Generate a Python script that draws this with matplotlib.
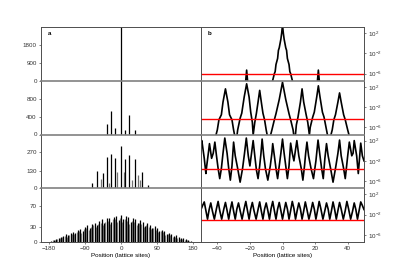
import numpy as np
import matplotlib.pyplot as plt

plt.rcParams['font.family'] = ['Liberation Sans', 'DejaVu Sans']
plt.rcParams['font.size'] = 4.5
plt.rcParams['mathtext.default'] = 'regular'

# ── panel a: probability (linear) ─────────────────────────────────────────
a1_pos = [0]
a1_val = [2800]

a2_pos = [-36, -24, -15, 0, 11, 20, 34]
a2_val = [230, 530, 140, 1250, 100, 440, 100]

a3_pos_k = [-72, -60, -46, -36, -24, -15, 0, 10, 21, 34, 53, 67]
a3_val_k = [37, 132, 110, 231, 253, 224, 312, 219, 246, 217, 122, 22]
a3_pos_g = [-51, -31, -11, 7, 28, 42, 47]
a3_val_g = [66, 40, 124, 124, 60, 102, 58]

a4_pos_k = np.arange(-174, 175, 6)
a4_val_k = [2, 4, 5, 8, 10, 12, 15, 13, 18, 20, 17, 24, 26, 22, 30, 33, 28, 36,
            38, 33, 42, 44, 38, 46, 47, 40, 48, 50, 43, 52, 44, 50, 48, 40, 47,
            45, 37, 43, 40, 32, 37, 34, 27, 31, 28, 21, 24, 22, 16, 18, 16, 11,
            13, 10, 7, 8, 5, 3, 2]
a4_pos_g = np.arange(-171, 172, 6)
a4_val_g = [3, 3, 6, 7, 9, 11, 10, 14, 16, 15, 19, 21, 18, 25, 27, 24, 30, 33,
            29, 36, 38, 33, 40, 42, 36, 44, 45, 39, 46, 40, 44, 41, 35, 42, 40,
            33, 38, 36, 30, 33, 30, 25, 27, 24, 19, 21, 19, 14, 15, 13, 9, 10,
            8, 6, 5, 4, 3, 2]

a_ylim = [2700, 1200, 400, 105]
a_ticks = [[0, 900, 1800], [0, 400, 800], [0, 130, 270], [0, 30, 70]]

# ── panel b: log10 probability ────────────────────────────────────────────
b1_x = [-50, -23, -22, -21, -7, -6, -5, -4.5, -4, -3, -2.5, -2, -1, -0.5, 0,
        0.5, 1, 2, 2.5, 3, 4, 4.5, 5, 6, 7, 21, 22, 23, 50]
b1_y = [-9, -9, -5.3, -9, -9, -7.3, -6.0, -5.6, -4.2, -3.0, -1.4, -0.9, 0.8,
        2.0, 3.6, 2.0, 0.8, -0.9, -1.4, -3.0, -4.2, -5.6, -6.0, -7.3, -9, -9,
        -5.3, -9, -9]

b2_x = [-50, -42, -40, -39, -37.5, -36.5, -35, -33.5, -32.5, -31, -30, -28.5,
        -27.5, -26, -25, -23.5, -22, -20.5, -19.5, -18.5, -18, -17, -16, -15,
        -14, -13, -12, -11, -10, -8.5, -6.5, -5, -4, -2, 0, 2, 4, 5, 6.5, 7.5,
        8.5, 9.5, 11, 12, 13, 14.5, 15.5, 16.5, 17, 18.5, 19.5, 21, 22, 23,
        24.5, 25.5, 27, 28.5, 30.5, 31.5, 32.5, 34, 35, 36, 37.5, 38.5, 40, 42, 50]
b2_y = [-9, -9, -6.5, -4.5, -3.5, -1, 1.6, -1, -3.5, -4.5, -6.5, -9,
        -6.5, -4.2, -3.2, 0, 2.6, 0, -3, -5, -7.5, -5, -3.2, -1,
        1.3, -1, -3.2, -4.5, -6.5, -9, -6.5, -4.5, -3.3, -0.5, 2.9, -0.5, -3.3, -4.5, -6.5, -9,
        -5.5, -4, -1, 1.6, -1, -3.5, -5, -7.5, -6, -4, -3, 0, 2.2, 0,
        -3, -4, -6.5, -9, -6.5, -4.5, -3.5, -1, 0.8, -1, -3.5, -4.5, -6.5, -9, -9]

b3_x = [-50, -49.5, -48, -47, -46.5, -45.5, -44.8, -43.5, -42.5, -41.5, -40.5,
        -39.5, -38.5, -37.5, -36.5, -35.4, -34, -33, -32, -31, -30, -29, -27.5,
        -26, -24.5, -23.3, -22.2, -21, -20, -19, -18, -17, -16, -15, -14, -13.2,
        -12.5, -11.5, -10.5, -9, -7.5, -6.5, -6, -5, -4, -3, -2, -1, 0, 1, 2, 3,
        4, 5, 6, 7, 8.8, 10, 11.5, 12.5, 13.5, 14.2, 15, 16, 17.5, 19, 20.5,
        21.8, 23, 24, 25, 26, 27, 28, 29.5, 31, 32.5, 34, 35, 36, 37.5, 38.5,
        40, 41, 42.5, 43.3, 44, 45.5, 46.5, 47.5, 48, 49, 50]
b3_y = [1.5, 2.0, -1.5, -4.5, -3, -0.5, 1.4, -1.5, -0.5, 1.7, -1,
        -3.5, -5.5, -3.5, -0.5, 2.5, -0.5, -3.5, -5.8, -3, 1.7, -1, -3.5,
        -6.2, -3.5, -0.5, 2.5, -1, -3, -0.5, 2.0, -1, -3.8, -5.5, -3, -0.5,
        2.3, -1, -3.5, -5.8, -3, -0.5, 1.4, -1, -3.5, -5.5, -3, -0.5, 2.3, -0.5, -3, -5.5,
        -3, 1.5, -0.5, -2, 2.0, -1, -3.5, -5.8, -3, -0.5, 1.7, -1, -3.5, -5.5, -2,
        2.1, -1, -3.5, -5.5, -1.5, 1.4, -1, -3.5, -6.2, -3.5, -0.5, 2.1, -1, -3.5, -5.5,
        -1, 1.7, -1, -0.5, 2.0, -1, -4.5, -0.5, 1.5, -1, -2]

b4_x = [-50, -49, -48, -47, -46, -45, -44, -43, -41.8, -40.5, -39.5, -38.5,
        -37.3, -36, -35, -34, -33, -32, -31, -30, -29, -28, -27, -26, -24.8,
        -23.5, -22.5, -21.5, -20.5, -19.5, -18.5, -17.5, -16.2, -15, -14, -13,
        -12, -11, -10, -9, -8, -7, -6, -5, -4, -3, -2, -1, 0, 1, 2, 3, 4, 5, 6,
        7, 8, 9, 10, 11, 12, 13, 14, 15, 16.2, 17.5, 18.5, 19.5, 20.5, 21.5,
        22.5, 23.5, 24.8, 26, 27, 28, 29, 30, 31, 32, 33, 34, 35, 36, 37.3, 38.5,
        39.5, 40.5, 41.8, 43, 44, 45, 46, 47, 48, 49, 50]
b4_y = [-1.0, -0.2, 0.5, -1.2, -2.9, -1.0, 0.3, -1.3, -2.9, -0.8, 0.6, -1.2,
        -2.9, -0.9, 0.4, -1.2, -2.9, -1.0, 0.5, -1.3, -2.9, -0.9, 0.3, -1.2, -2.9,
        -0.8, 0.6, -1.2, -2.9, -0.9, 0.4, -1.2, -2.9, -1.0, 0.5, -1.3, -2.9,
        -0.9, 0.3, -1.2, -2.9, -0.8, 0.6, -1.2, -2.9, -0.9, 0.4, -1.2, -2.9, -1.2, 0.4, -0.9, -2.9,
        -1.2, 0.6, -0.8, -2.9, -1.2, 0.3, -0.9, -2.9, -1.3, 0.5, -1.0, -2.9, -1.2,
        0.4, -0.9, -2.9, -1.2, 0.6, -0.8, -2.9, -1.2, 0.3, -0.9, -2.9, -1.3, 0.5,
        -1.0, -2.9, -1.2, 0.4, -0.9, -2.9, -1.2, 0.6, -0.8, -2.9, -1.3, 0.3, -1.0,
        -2.9, -1.2, 0.5, -0.2, -1.0]

b_lines = [(b1_x, b1_y), (b2_x, b2_y), (b3_x, b3_y), (b4_x, b4_y)]
b_red = [1e-6, 5e-5, 2e-4, 8e-4]

# ── figure ────────────────────────────────────────────────────────────────
fig = plt.figure(figsize=(4.04, 2.70), dpi=100)
x0a, x0b, x1 = 41 / 404, 201 / 404, 364 / 404
ytop, ybot = 1 - 27 / 270, 1 - 242 / 270
h = (ytop - ybot) / 4

def style(ax, i):
    for s in ax.spines.values():
        s.set_color('0.3')
        s.set_linewidth(0.7)
    if i > 0:
        ax.spines['top'].set_color('0.5')
        ax.spines['top'].set_linewidth(1.2)
    ax.tick_params(length=1.5, width=0.5, pad=1.5, colors='0.3', labelcolor='0.2')

for i in range(4):
    y0 = ytop - (i + 1) * h
    # left column
    ax = fig.add_axes([x0a, y0, x0b - x0a, h])
    style(ax, i)
    if i == 0:
        ax.vlines(a1_pos, 0, a1_val, color='k', lw=0.9)
    elif i == 1:
        ax.vlines(a2_pos, 0, a2_val, color='k', lw=0.9)
    elif i == 2:
        ax.vlines(a3_pos_g, 0, a3_val_g, color='0.45', lw=0.9)
        ax.vlines(a3_pos_k, 0, a3_val_k, color='k', lw=0.9)
    else:
        ax.vlines(a4_pos_g, 0, a4_val_g, color='0.5', lw=0.9)
        ax.vlines(a4_pos_k, 0, a4_val_k, color='k', lw=0.9)
    ax.set_xlim(-200, 200)
    ax.set_ylim(0, a_ylim[i])
    ax.set_yticks(a_ticks[i])
    ax.set_xticks([-180, -90, 0, 90, 180])
    if i < 3:
        ax.set_xticklabels([])
    else:
        ax.set_xlabel('Position (lattice sites)', labelpad=1.5)
    if i == 0:
        ax.text(0.04, 0.93, 'a', transform=ax.transAxes, fontweight='bold',
                va='top', fontsize=4.5)

    # right column
    bx = fig.add_axes([x0b, y0, x1 - x0b, h])
    style(bx, i)
    xs, ys = b_lines[i]
    bx.semilogy(xs, 10.0 ** np.array(ys), color='k', lw=1.2)
    bx.axhline(b_red[i], color='red', lw=1.0)
    bx.set_xlim(-50, 50)
    bx.set_ylim(10 ** -7.4, 10 ** 3.2)
    bx.set_yticks([1e2, 1e-2, 1e-6])
    bx.set_yticklabels(['$10^{2}$', '$10^{-2}$', '$10^{-6}$'])
    bx.minorticks_off()
    bx.yaxis.tick_right()
    bx.set_xticks([-40, -20, 0, 20, 40])
    if i < 3:
        bx.set_xticklabels([])
    else:
        bx.set_xlabel('Position (lattice sites)', labelpad=1.5)
    if i == 0:
        bx.text(0.04, 0.93, 'b', transform=bx.transAxes, fontweight='bold',
                va='top', fontsize=4.5)

fig.savefig('out.png', dpi=100)
